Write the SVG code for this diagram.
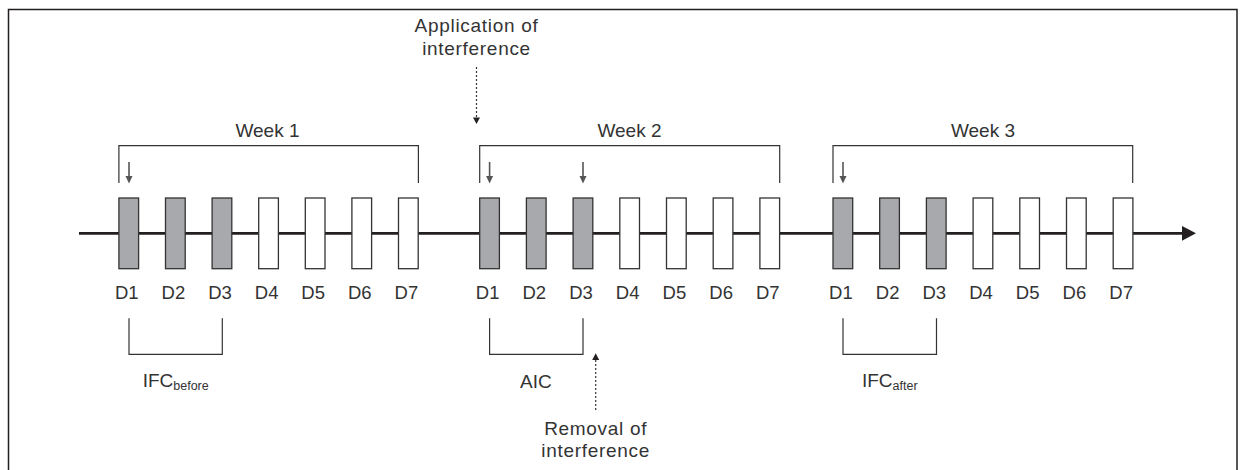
<svg xmlns="http://www.w3.org/2000/svg" width="1245" height="470" viewBox="0 0 1245 470">
<defs>
<style>
.t{font-family:"Liberation Sans",Arial,sans-serif;font-size:19px;fill:#333;text-anchor:middle}
.d{font-family:"Liberation Sans",Arial,sans-serif;font-size:18.5px;fill:#333;text-anchor:middle}
.ls{letter-spacing:0.7px}
.g{fill:#a8a9ac;stroke:#333;stroke-width:1.3}
.w{fill:#fff;stroke:#333;stroke-width:1.3}
.br{fill:none;stroke:#333;stroke-width:1.2}
.sa{stroke:#555;stroke-width:1.6}
.dash{stroke:#333;stroke-width:1.2;stroke-dasharray:2 2;fill:none}
</style>
</defs>
<rect width="1245" height="470" fill="#fff"/>
<path id="frame" d="M8.5 471 V9.5 H1237 V471" fill="none" stroke="#231f20" stroke-width="1.5"/>

<g id="connectors">
<line x1="79" y1="233.3" x2="1184" y2="233.3" stroke="#231f20" stroke-width="2.7"/>
<polygon points="1182,226 1196,233.3 1182,240.7" fill="#231f20"/>
<line class="dash" x1="476.5" y1="67" x2="476.5" y2="118"/>
<polygon points="473,117.5 480,117.5 476.5,124" fill="#231f20"/>
<line class="dash" x1="595.7" y1="410" x2="595.7" y2="359"/>
<polygon points="592.2,360 599.2,360 595.7,353.3" fill="#231f20"/>
<line class="sa" x1="129" y1="162" x2="129" y2="177"/>
<polygon points="125.5,176 132.5,176 129,183.5" fill="#555"/>
<line class="sa" x1="489.6" y1="162" x2="489.6" y2="177"/>
<polygon points="486.1,176 493.1,176 489.6,183.5" fill="#555"/>
<line class="sa" x1="583" y1="162" x2="583" y2="177"/>
<polygon points="579.5,176 586.5,176 583,183.5" fill="#555"/>
<line class="sa" x1="843" y1="162" x2="843" y2="177"/>
<polygon points="839.5,176 846.5,176 843,183.5" fill="#555"/>
</g>

<g id="brackets">
<path class="br" d="M118.9 183 V145.6 H418.4 V183"/>
<path class="br" d="M479.7 183 V145.6 H779.7 V183"/>
<path class="br" d="M833 183 V145.6 H1132.7 V183"/>
<path class="br" d="M129 318.3 V354.4 H222.3 V318.3"/>
<path class="br" d="M489.6 318.3 V354.4 H583 V318.3"/>
<path class="br" d="M843 318.3 V354.4 H936.5 V318.3"/>
</g>

<g id="week1">
<text class="t" x="267.5" y="136.7">Week 1</text>
<rect class="g" x="118.9" y="198" width="19.7" height="70.7"/>
<rect class="g" x="165.5" y="198" width="19.7" height="70.7"/>
<rect class="g" x="212.1" y="198" width="19.7" height="70.7"/>
<rect class="w" x="258.7" y="198" width="19.7" height="70.7"/>
<rect class="w" x="305.3" y="198" width="19.7" height="70.7"/>
<rect class="w" x="351.9" y="198" width="19.7" height="70.7"/>
<rect class="w" x="398.5" y="198" width="19.7" height="70.7"/>
<text class="d" x="126.8" y="298.5">D1</text>
<text class="d" x="173.4" y="298.5">D2</text>
<text class="d" x="220" y="298.5">D3</text>
<text class="d" x="266.6" y="298.5">D4</text>
<text class="d" x="313.2" y="298.5">D5</text>
<text class="d" x="359.8" y="298.5">D6</text>
<text class="d" x="406.4" y="298.5">D7</text>
</g>

<g id="week2">
<text class="t" x="629.5" y="136.7">Week 2</text>
<rect class="g" x="479.7" y="198" width="19.7" height="70.7"/>
<rect class="g" x="526.4" y="198" width="19.7" height="70.7"/>
<rect class="g" x="573.1" y="198" width="19.7" height="70.7"/>
<rect class="w" x="619.8" y="198" width="19.7" height="70.7"/>
<rect class="w" x="666.5" y="198" width="19.7" height="70.7"/>
<rect class="w" x="713.2" y="198" width="19.7" height="70.7"/>
<rect class="w" x="759.9" y="198" width="19.7" height="70.7"/>
<text class="d" x="487.6" y="298.5">D1</text>
<text class="d" x="534.3" y="298.5">D2</text>
<text class="d" x="581" y="298.5">D3</text>
<text class="d" x="627.7" y="298.5">D4</text>
<text class="d" x="674.4" y="298.5">D5</text>
<text class="d" x="721.1" y="298.5">D6</text>
<text class="d" x="767.8" y="298.5">D7</text>
</g>

<g id="week3">
<text class="t" x="983" y="136.7">Week 3</text>
<rect class="g" x="833" y="198" width="19.7" height="70.7"/>
<rect class="g" x="879.7" y="198" width="19.7" height="70.7"/>
<rect class="g" x="926.4" y="198" width="19.7" height="70.7"/>
<rect class="w" x="973.1" y="198" width="19.7" height="70.7"/>
<rect class="w" x="1019.8" y="198" width="19.7" height="70.7"/>
<rect class="w" x="1066.5" y="198" width="19.7" height="70.7"/>
<rect class="w" x="1113.2" y="198" width="19.7" height="70.7"/>
<text class="d" x="840.9" y="298.5">D1</text>
<text class="d" x="887.6" y="298.5">D2</text>
<text class="d" x="934.3" y="298.5">D3</text>
<text class="d" x="981" y="298.5">D4</text>
<text class="d" x="1027.7" y="298.5">D5</text>
<text class="d" x="1074.4" y="298.5">D6</text>
<text class="d" x="1121.1" y="298.5">D7</text>
</g>

<g id="application">
<text class="t ls" x="476.5" y="32">Application of</text>
<text class="t ls" x="476.5" y="54.5">interference</text>
</g>
<g id="removal">
<text class="t ls" x="595.7" y="435">Removal of</text>
<text class="t ls" x="595.7" y="456.7">interference</text>
</g>
<g id="ifc-before">
<text class="t" x="175.7" y="386.7">IFC<tspan font-size="12.5" dy="3">before</tspan></text>
</g>
<g id="aic">
<text class="t" x="535.8" y="388.3">AIC</text>
</g>
<g id="ifc-after">
<text class="t" x="889.8" y="386.7">IFC<tspan font-size="12.5" dy="3">after</tspan></text>
</g>
</svg>
